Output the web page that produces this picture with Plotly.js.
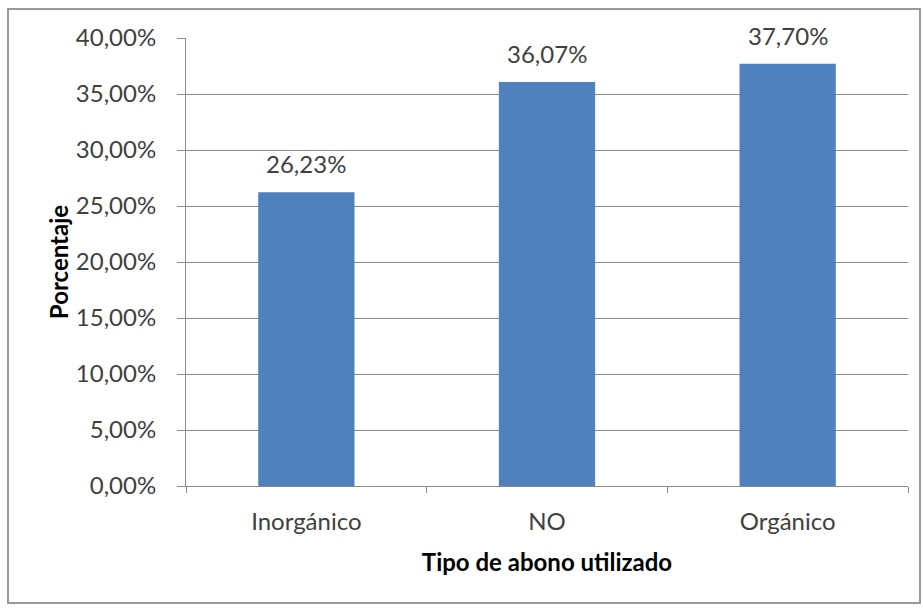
<!DOCTYPE html>
<html>
<head>
<meta charset="utf-8">
<script src="https://cdn.plot.ly/plotly-3.0.1.min.js"></script>
<style>
  html, body { margin: 0; padding: 0; background: #ffffff; }
  #wrap { position: relative; width: 923px; height: 608px; }
  #chart { position: absolute; left: 0; top: 0; width: 923px; height: 608px; }
  #frame { position: absolute; left: 7px; top: 8px; width: 914px; height: 596px;
           border: 2px solid #9a9a9a; box-sizing: border-box; pointer-events: none; }
</style>
</head>
<body>
<div id="wrap">
  <div id="chart"></div>
  <div id="frame"></div>
</div>
<script>
// Tipo de abono utilizado: share of respondents per fertilizer type
const categories = ["Inorgánico", "NO", "Orgánico"];
const shares = [0.2623, 0.3607, 0.3770];
const yTickValues = [0, 0.05, 0.10, 0.15, 0.20, 0.25, 0.30, 0.35, 0.40];

const fontFamily = "Lato, 'Open Sans', sans-serif";
const textColor = "#404040";
const lineColor = "#8a8a8a";

// Spanish-style percentage: comma as decimal separator
function pct(v) {
  return (v * 100).toFixed(2).replace(".", ",") + "%";
}

const trace = {
  type: "bar",
  x: categories,
  y: shares,
  marker: { color: "#4F81BD", line: { width: 0 } },
  hoverinfo: "skip"
};

// Value labels sitting above each bar
const valueLabels = categories.map((c, i) => ({
  x: c,
  y: shares[i],
  xref: "x",
  yref: "y",
  text: pct(shares[i]),
  showarrow: false,
  yanchor: "bottom",
  yshift: 12,
  font: { family: fontFamily, size: 24, color: textColor }
}));

const layout = {
  width: 923,
  height: 608,
  margin: { l: 186, r: 15, t: 38, b: 122 },
  paper_bgcolor: "rgba(0,0,0,0)",
  plot_bgcolor: "#ffffff",
  separators: ",.",
  bargap: 0.6,
  showlegend: false,
  annotations: valueLabels,
  xaxis: {
    type: "category",
    showline: true,
    linecolor: lineColor,
    linewidth: 1,
    ticks: "outside",
    tickson: "boundaries",
    ticklen: 6,
    tickcolor: lineColor,
    ticklabelstandoff: 14,
    tickfont: { family: fontFamily, size: 24, color: textColor },
    showgrid: false,
    title: {
      text: "Tipo de abono utilizado",
      font: { family: fontFamily, size: 24, color: "#000000", weight: "bold" },
      standoff: 20
    }
  },
  yaxis: {
    range: [0, 0.40],
    tickvals: yTickValues,
    tickformat: ".2%",
    showline: true,
    linecolor: lineColor,
    linewidth: 1,
    ticks: "outside",
    ticklen: 8,
    tickcolor: lineColor,
    ticklabelstandoff: 16,
    tickfont: { family: fontFamily, size: 24, color: textColor },
    showgrid: true,
    gridcolor: lineColor,
    gridwidth: 1,
    zeroline: false,
    title: {
      text: "Porcentaje",
      font: { family: fontFamily, size: 24, color: "#000000", weight: "bold" },
      standoff: 0
    }
  }
};

Plotly.newPlot("chart", [trace], layout, { staticPlot: true, displayModeBar: false });
</script>
</body>
</html>
